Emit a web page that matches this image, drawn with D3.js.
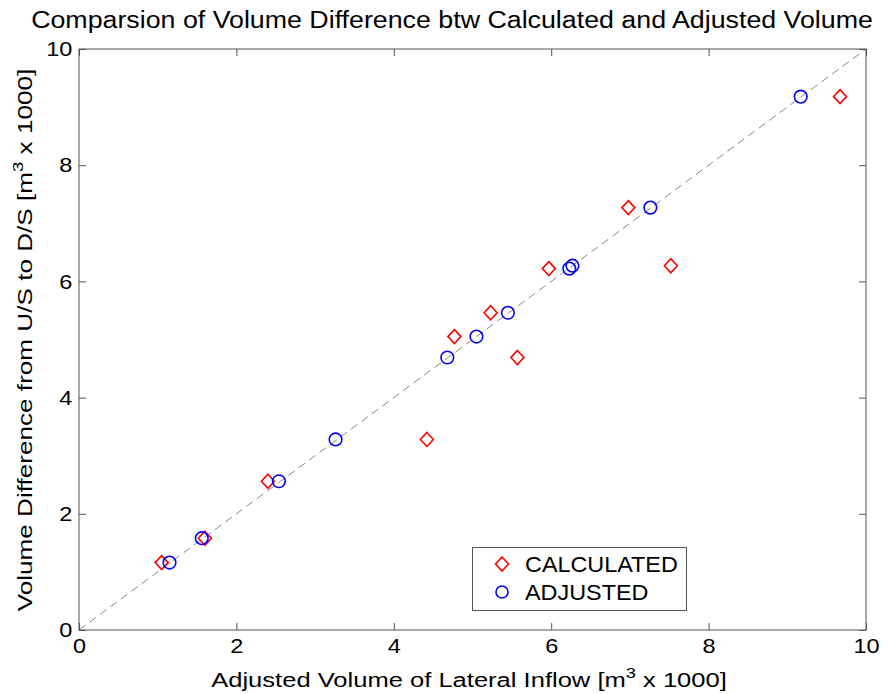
<!DOCTYPE html>
<html>
<head>
<meta charset="utf-8">
<script src="https://cdn.jsdelivr.net/npm/d3@7"></script>
<style>
  body { margin: 0; background: #fff; }
  text { font-family: "Liberation Sans", Arial, sans-serif; fill: #000; }
</style>
</head>
<body>
<svg id="chart" width="890" height="694"></svg>
<script>
// volume difference U/S to D/S (y), shared by both series
var volDiff = [1.16, 1.58, 2.56, 3.28, 4.69, 5.05, 5.46, 6.22, 6.27, 7.27, 9.18];
// calculated lateral inflow (x of the diamonds)
var calculated = [1.05, 1.60, 2.40, 4.42, 5.57, 4.77, 5.23, 5.97, 7.52, 6.98, 9.67];
// adjusted lateral inflow (x of the circles)
var adjusted = [1.15, 1.56, 2.54, 3.26, 4.68, 5.05, 5.45, 6.23, 6.27, 7.26, 9.17];
var tickVals = [0, 2, 4, 6, 8, 10];
var seriesNames = ['CALCULATED', 'ADJUSTED'];

var svg = d3.select('#chart'),
    mLeft = 79, mRight = 866, mTop = 49, mBottom = 630;

var x = d3.scaleLinear().domain([0, 10]).range([mLeft, mRight]),
    y = d3.scaleLinear().domain([0, 10]).range([mBottom, mTop]);

var axisColor = '#555';

// stretch a text horizontally (along its own baseline) to a target width
function fitWidth(sel, target) {
  var w = sel.node().getBBox().width;
  return target / w;
}

// 1:1 line
svg.append('line')
  .attr('x1', x(0)).attr('y1', y(0))
  .attr('x2', x(10)).attr('y2', y(10))
  .attr('stroke', '#888')
  .attr('stroke-width', 1)
  .attr('stroke-dasharray', '8,5');

function styleAxis(g) {
  g.select('.domain').remove();
  g.selectAll('.tick line').attr('stroke', axisColor);
  g.selectAll('.tick text').style('font-size', '21px');
}

svg.append('g').attr('transform', 'translate(0,' + mBottom + ')')
  .call(d3.axisBottom(x).tickValues(tickVals).tickSizeInner(-7).tickPadding(8).tickFormat(d3.format('d')))
  .call(styleAxis)
  .selectAll('.tick text').attr('dy', '0.71em').attr('transform', 'scale(1.12,1)');
svg.append('g').attr('transform', 'translate(0,' + mTop + ')')
  .call(d3.axisTop(x).tickValues(tickVals).tickSizeInner(-7).tickFormat(''))
  .call(styleAxis);
svg.append('g').attr('transform', 'translate(' + mLeft + ',0)')
  .call(d3.axisLeft(y).tickValues(tickVals).tickSizeInner(-7).tickPadding(6).tickFormat(d3.format('d')))
  .call(styleAxis)
  .selectAll('.tick text').attr('transform', 'scale(1.12,1)');
svg.append('g').attr('transform', 'translate(' + mRight + ',0)')
  .call(d3.axisRight(y).tickValues(tickVals).tickSizeInner(-7).tickFormat(''))
  .call(styleAxis);

svg.append('rect')
  .attr('x', mLeft).attr('y', mTop)
  .attr('width', mRight - mLeft).attr('height', mBottom - mTop)
  .attr('fill', 'none')
  .attr('stroke', axisColor)
  .attr('stroke-width', 1);

var diamond = 'M0,-7 L6.5,0 L0,7 L-6.5,0 Z';

svg.append('g').selectAll('path')
  .data(volDiff)
  .enter().append('path')
  .attr('d', diamond)
  .attr('transform', function(d, i) { return 'translate(' + x(calculated[i]) + ',' + y(d) + ')'; })
  .attr('fill', 'none')
  .attr('stroke', '#ff0000')
  .attr('stroke-width', 1.6);

svg.append('g').selectAll('circle')
  .data(volDiff)
  .enter().append('circle')
  .attr('cx', function(d, i) { return x(adjusted[i]); })
  .attr('cy', function(d) { return y(d); })
  .attr('r', 6.3)
  .attr('fill', 'none')
  .attr('stroke', '#0000ff')
  .attr('stroke-width', 1.6);

// legend
var lg = svg.append('g');
lg.append('rect')
  .attr('x', 472.5).attr('y', 547.5)
  .attr('width', 214).attr('height', 63)
  .attr('fill', '#fff')
  .attr('stroke', axisColor);
lg.append('path').attr('d', diamond)
  .attr('transform', 'translate(502,564)')
  .attr('fill', 'none').attr('stroke', '#ff0000').attr('stroke-width', 1.6);
lg.append('circle').attr('cx', 502).attr('cy', 592).attr('r', 6)
  .attr('fill', 'none').attr('stroke', '#0000ff').attr('stroke-width', 1.6);
var lgText = lg.selectAll('text.lbl').data(seriesNames).enter().append('text')
  .attr('class', 'lbl')
  .attr('x', 0)
  .attr('y', 0)
  .attr('dy', '0.36em')
  .style('font-size', '22px')
  .text(function(d) { return d; });
var lsx = fitWidth(lgText.filter(function(d, i) { return i === 0; }), 153);
lgText.attr('transform', function(d, i) {
  return 'translate(525,' + (564 + i * 28) + ') scale(' + lsx + ',1)';
});

// title and axis labels
var title = svg.append('text')
  .attr('text-anchor', 'middle')
  .style('font-size', '23px')
  .text('Comparsion of Volume Difference btw Calculated and Adjusted Volume');
title.attr('transform', 'translate(452,28) scale(' + fitWidth(title, 842) + ',1)');

var xl = svg.append('text')
  .attr('text-anchor', 'middle')
  .style('font-size', '21px');
xl.append('tspan').text('Adjusted Volume of Lateral Inflow [m');
xl.append('tspan').attr('dy', -9).style('font-size', '15px').text('3');
xl.append('tspan').attr('dy', 9).text(' x 1000]');
xl.attr('transform', 'translate(469,687) scale(' + fitWidth(xl, 516) + ',1)');

var yl = svg.append('text')
  .attr('text-anchor', 'middle')
  .style('font-size', '21px');
yl.append('tspan').text('Volume Difference from U/S to D/S [m');
yl.append('tspan').attr('dy', -9).style('font-size', '15px').text('3');
yl.append('tspan').attr('dy', 9).text(' x 1000]');
yl.attr('transform', 'translate(32,' + 340 + ') rotate(-90) scale(' + fitWidth(yl, 543) + ',1)');
</script>
</body>
</html>
